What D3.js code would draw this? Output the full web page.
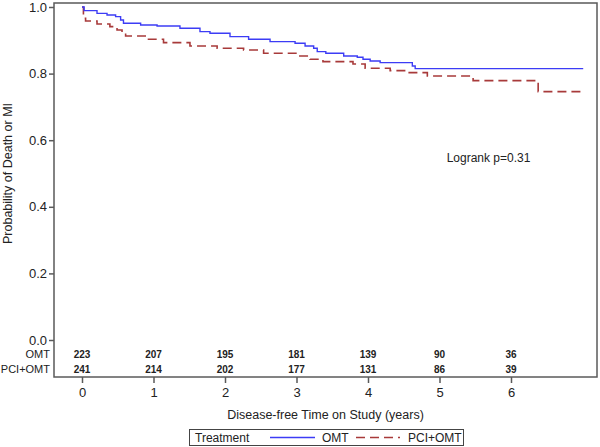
<!DOCTYPE html>
<html>
<head>
<meta charset="utf-8">
<script src="https://cdn.jsdelivr.net/npm/d3@7"></script>
<style>
  body { margin: 0; background: #fff; }
  svg text { font-family: Arial, "Liberation Sans", sans-serif; fill: #222; }
</style>
</head>
<body>
<div id="chart"></div>
<script>
// Kaplan-Meier step data (years, probability)
var omtTime = [0, 0.03, 0.21, 0.35, 0.47, 0.54, 0.58, 0.82, 1.05, 1.37, 1.65, 1.79, 2.07, 2.33, 2.63, 2.98, 3.12, 3.24, 3.29, 3.41, 3.66, 3.85, 3.93, 4.03, 4.17, 4.62, 4.66, 7.01];
var omtSurv = [1.0, 0.989, 0.981, 0.976, 0.971, 0.961, 0.951, 0.946, 0.943, 0.936, 0.926, 0.921, 0.911, 0.903, 0.896, 0.891, 0.883, 0.876, 0.866, 0.861, 0.853, 0.849, 0.843, 0.838, 0.833, 0.823, 0.815, 0.815];
var pciTime = [0, 0.02, 0.05, 0.21, 0.39, 0.49, 0.56, 0.61, 0.91, 1.14, 1.51, 1.89, 2.26, 2.54, 3.03, 3.19, 3.37, 3.79, 3.96, 4.31, 4.55, 4.83, 5.47, 6.38, 7.01];
var pciSurv = [1.0, 0.966, 0.958, 0.949, 0.941, 0.931, 0.921, 0.913, 0.903, 0.893, 0.883, 0.876, 0.871, 0.861, 0.853, 0.843, 0.836, 0.829, 0.816, 0.809, 0.803, 0.793, 0.779, 0.746, 0.746];

var xTicks = [0, 1, 2, 3, 4, 5, 6];
var yTicks = [0, 0.2, 0.4, 0.6, 0.8, 1.0];
var riskGroups = ["OMT", "PCI+OMT"];
var omtRisk = [223, 207, 195, 181, 139, 90, 36];
var pciRisk = [241, 214, 202, 177, 131, 86, 39];

var width = 600, height = 447;
var frame = {left: 54, right: 597, top: 3, bottom: 377};

var svg = d3.select("#chart")
  .append("svg")
    .attr("width", width)
    .attr("height", height);

var x = d3.scaleLinear().domain([0, 6]).range([82, 511]);
var y = d3.scaleLinear().domain([0, 1]).range([340, 7]);

//frame
svg.append("rect")
  .attr("x", frame.left)
  .attr("y", frame.top)
  .attr("width", frame.right - frame.left)
  .attr("height", frame.bottom - frame.top)
  .attr("fill", "none")
  .attr("stroke", "#5a5a5a")
  .attr("stroke-width", 1.5);

//x-axis
var xAxis = svg.append("g")
  .attr("transform", "translate(0," + frame.bottom + ")")
  .call(d3.axisBottom(x).tickValues(xTicks).tickSize(6).tickFormat(d3.format("d")));
xAxis.select(".domain").remove();
xAxis.selectAll("line").attr("stroke", "#5a5a5a").attr("stroke-width", 1.5);
xAxis.selectAll("text")
  .attr("y", 11)
  .style("font-size", "13px")
  .style("font-family", "Arial, 'Liberation Sans', sans-serif")
  .attr("fill", "#222");

//y-axis
var yAxis = svg.append("g")
  .attr("transform", "translate(" + frame.left + ",0)")
  .call(d3.axisLeft(y).tickValues(yTicks).tickSize(5).tickFormat(d3.format(".1f")));
yAxis.select(".domain").remove();
yAxis.selectAll("line").attr("stroke", "#5a5a5a").attr("stroke-width", 1.5);
yAxis.selectAll("text")
  .attr("x", -7)
  .style("font-size", "13px")
  .style("font-family", "Arial, 'Liberation Sans', sans-serif")
  .attr("fill", "#222");

//axis titles
svg.append("text")
  .attr("x", (frame.left + frame.right) / 2)
  .attr("y", 419)
  .attr("text-anchor", "middle")
  .style("font-size", "12.5px")
  .text("Disease-free Time on Study (years)");

svg.append("text")
  .attr("transform", "translate(12," + y(0.5) + ")rotate(-90)")
  .attr("text-anchor", "middle")
  .style("font-size", "12.5px")
  .text("Probability of Death or MI");

//curves
var line = d3.line()
  .x(function(d) { return x(d[0]); })
  .y(function(d) { return y(d[1]); })
  .curve(d3.curveStepAfter);

var omtData = omtTime.map(function(t, i) { return [t, omtSurv[i]]; });
var pciData = pciTime.map(function(t, i) { return [t, pciSurv[i]]; });

svg.append("path")
  .datum(pciData)
  .attr("d", line)
  .attr("fill", "none")
  .attr("stroke", "#a83a3a")
  .attr("stroke-width", 1.6)
  .attr("stroke-dasharray", "9,5");

svg.append("path")
  .datum(omtData)
  .attr("d", line)
  .attr("fill", "none")
  .attr("stroke", "#3c3cf5")
  .attr("stroke-width", 1.4);

//logrank
svg.append("text")
  .attr("x", x(5.1))
  .attr("y", y(0.535))
  .style("font-size", "12px")
  .text("Logrank p=0.31");

//at-risk table
var riskRows = [omtRisk, pciRisk];
var rowY = [354, 369];
riskRows.forEach(function(row, r) {
  svg.append("text")
    .attr("x", 50)
    .attr("y", rowY[r])
    .attr("dy", ".35em")
    .attr("text-anchor", "end")
    .style("font-size", "11px")
    .text(riskGroups[r]);

  svg.selectAll(".risk" + r)
    .data(row)
    .enter()
    .append("text")
      .attr("x", function(d, i) { return x(xTicks[i]); })
      .attr("y", rowY[r])
      .attr("dy", ".35em")
      .attr("text-anchor", "middle")
      .style("font-size", "10px")
      .style("font-weight", "bold")
      .attr("fill", "#333")
      .text(function(d) { return d; });
});

//legend
var legend = svg.append("g");
legend.append("rect")
  .attr("x", 189.5)
  .attr("y", 429.5)
  .attr("width", 274)
  .attr("height", 16)
  .attr("fill", "none")
  .attr("stroke", "#444")
  .attr("stroke-width", 1);
legend.append("text")
  .attr("x", 195)
  .attr("y", 442)
  .style("font-size", "12px")
  .text("Treatment");
legend.append("line")
  .attr("x1", 270).attr("x2", 315)
  .attr("y1", 437.5).attr("y2", 437.5)
  .attr("stroke", "#3c3cf5")
  .attr("stroke-width", 1.4);
legend.append("text")
  .attr("x", 322)
  .attr("y", 442)
  .style("font-size", "12px")
  .text("OMT");
legend.append("line")
  .attr("x1", 356).attr("x2", 400)
  .attr("y1", 437.5).attr("y2", 437.5)
  .attr("stroke", "#a83a3a")
  .attr("stroke-width", 1.6)
  .attr("stroke-dasharray", "9,5");
legend.append("text")
  .attr("x", 408)
  .attr("y", 442)
  .style("font-size", "12px")
  .text("PCI+OMT");
</script>
</body>
</html>
